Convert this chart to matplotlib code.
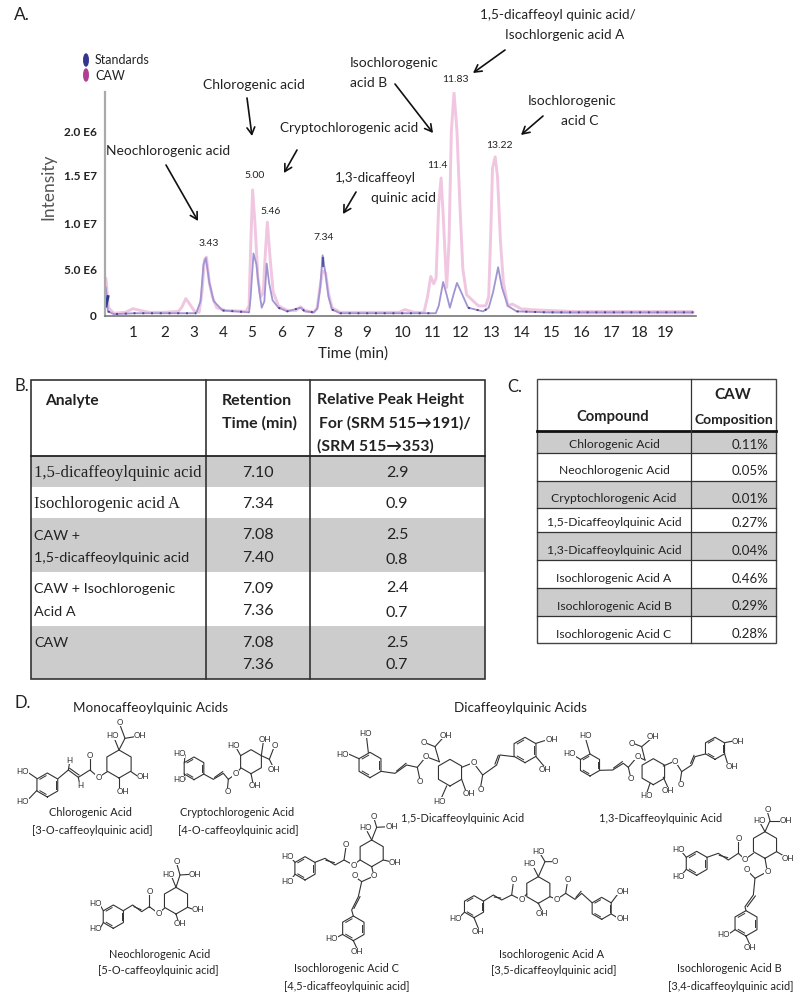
import numpy as np
import matplotlib
matplotlib.use("Agg")
import matplotlib.pyplot as plt
from matplotlib.patches import Ellipse, Rectangle

plt.rcParams['font.family'] = ['Lato', 'DejaVu Sans']

# ---------- chromatogram data (time in min, intensity in 1e6 counts) ----------
caw_time = [0.0, 0.03, 0.12, 0.3, 0.7, 0.95, 1.2, 1.5, 2.0, 2.5, 2.62, 2.75, 2.9, 3.05, 3.2, 3.3, 3.38, 3.45, 3.55, 3.65, 3.8, 4.1, 4.8,
            4.9, 4.96, 5.02, 5.1, 5.2, 5.3, 5.38, 5.44, 5.52, 5.62, 5.72, 5.9, 6.2, 6.5, 6.65, 6.8, 7.1, 7.22, 7.3, 7.4, 7.5, 7.6, 7.72,
            8.0, 9.0, 10.0, 10.2, 10.5, 10.85, 10.97, 11.08, 11.18, 11.26, 11.35, 11.43, 11.5, 11.62, 11.7, 11.78, 11.87, 11.97, 12.07,
            12.17, 12.3, 12.5, 12.7, 12.95, 13.05, 13.12, 13.18, 13.27, 13.35, 13.45, 13.55, 13.7, 13.85, 14.2, 14.5, 16.0, 18.0, 20.0]
caw_values = [1.0, 4.0, 0.8, 0.2, 0.3, 0.7, 0.5, 0.3, 0.3, 0.4, 0.9, 1.8, 1.1, 0.4, 0.3, 2.5, 6.0, 6.3, 3.5, 2.0, 0.8, 0.5, 0.4,
              1.0, 8.0, 13.6, 10.0, 4.0, 2.0, 2.4, 6.0, 10.1, 6.0, 2.5, 1.0, 0.5, 0.5, 0.9, 0.5, 0.3, 0.8, 2.8, 4.8, 4.6, 2.4, 0.8,
              0.3, 0.3, 0.3, 0.6, 0.3, 0.3, 2.0, 4.2, 3.4, 4.0, 12.0, 14.9, 11.0, 3.0, 8.0, 20.0, 24.2, 20.0, 12.0,
              5.0, 2.2, 1.6, 1.0, 1.0, 2.0, 9.0, 16.0, 17.2, 15.0, 8.0, 3.5, 1.0, 1.2, 0.6, 0.5, 0.3, 0.3, 0.3]
std_time = [0.0, 0.03, 0.1, 0.3, 1.0, 2.0, 3.1, 3.25, 3.35, 3.43, 3.55, 3.7, 4.0, 4.9, 4.95, 5.05, 5.15, 5.25, 5.33, 5.42, 5.5, 5.58, 5.7, 5.9,
            6.2, 6.65, 6.8, 7.1, 7.22, 7.32, 7.4, 7.5, 7.6, 7.72, 8.0, 10.0, 11.25, 11.35, 11.5, 11.62, 11.73, 11.85, 11.97, 12.1, 12.35,
            12.86, 13.05, 13.2, 13.37, 13.5, 13.7, 14.0, 15.0, 20.0]
std_values = [1.0, 3.0, 0.4, 0.1, 0.2, 0.2, 0.2, 1.5, 5.5, 6.2, 3.5, 1.5, 0.5, 0.3, 1.8, 6.7, 5.5, 2.5, 0.8, 1.5, 5.6, 3.5, 1.6, 0.8,
              0.4, 0.8, 0.4, 0.3, 0.7, 3.0, 6.5, 4.5, 2.0, 0.6, 0.2, 0.2, 0.2, 1.0, 3.6, 2.2, 0.8, 2.2, 3.5, 2.6, 0.8,
              0.4, 0.8, 2.5, 5.2, 3.0, 1.0, 0.4, 0.3, 0.3]
y_tick_values = [0, 5, 10, 15.2, 20]
y_tick_labels = ['0', '5.0 E6', '1.0 E7', '1.5 E7', '2.0 E6']
x_tick_positions = [0.95, 2.04, 3.03, 4.01, 5.0, 5.99, 6.97, 7.93, 8.91, 10.14, 11.16, 12.11, 13.16, 14.18, 15.2, 16.22, 17.24, 18.2, 19.08]
x_tick_labels = [str(i) for i in range(1, 20)]

peak_labels = ['3.43', '5.00', '5.46', '7.34', '11.4', '11.83', '13.22']
peak_label_xy = [(209, 244), (255, 176), (271, 211), (324, 238), (437, 165), (455, 79), (499, 145)]

# ---------- table data ----------
table_b_analyte = ['1,5-dicaffeoylquinic acid', 'Isochlorogenic acid A', 'CAW +', '1,5-dicaffeoylquinic acid',
                   'CAW + Isochlorogenic', 'Acid A', 'CAW']
table_b_rt = ['7.10', '7.34', '7.08', '7.40', '7.09', '7.36', '7.08', '7.36']
table_b_ratio = ['2.9', '0.9', '2.5', '0.8', '2.4', '0.7', '2.5', '0.7']
table_c_compound = ['Chlorogenic Acid', 'Neochlorogenic Acid', 'Cryptochlorogenic Acid', '1,5-Dicaffeoylquinic Acid',
                    '1,3-Dicaffeoylquinic Acid', 'Isochlorogenic Acid A', 'Isochlorogenic Acid B', 'Isochlorogenic Acid C']
table_c_comp = ['0.11%', '0.05%', '0.01%', '0.27%', '0.04%', '0.46%', '0.29%', '0.28%']

W, H = 800, 1001
fig = plt.figure(figsize=(W / 100, H / 100), dpi=100, facecolor='white')
INK = '#222222'
GREY = '#cccccc'

# full-figure overlay in pixel coordinates
pg = fig.add_axes([0, 0, 1, 1], zorder=5)
pg.set_xlim(0, W)
pg.set_ylim(H, 0)
pg.axis('off')
pg.patch.set_alpha(0)


def T(x, y, s, size=10, ha='center', weight='normal', color=INK, **kw):
    pg.text(x, y, s, fontsize=size, ha=ha, va='center', fontweight=weight, color=color, **kw)


# ---------- panel A ----------
ax = fig.add_axes([105 / W, 1 - 316 / H, (696 - 105) / W, (316 - 92) / H], zorder=1)
ax.set_xlim(0, 20.1)
ax.set_ylim(-0.1, 24.25)
caw_t = np.array(caw_time)
caw_v = np.array(caw_values)
ax.plot(caw_t[caw_t >= 14.0], caw_v[caw_t >= 14.0], color='#f0c8e2', lw=3.2, solid_capstyle='butt')
ax.plot(caw_time, caw_values, color='#f0c6e1', lw=2.1, solid_joinstyle='round')
ax.plot(std_time, std_values, color='#a095d2', lw=1.3, solid_joinstyle='round')
std_t = np.array(std_time)
std_v = np.array(std_values)
ax.plot(std_t, np.where(std_v < 1, std_v, np.nan), color='#4f2f88', lw=1.4, ls=(0, (1, 3.5)), alpha=0.85)
ax.plot(std_t[[1, 2]], [1.0, 2.0], color='#2b3a8f', lw=2.2)
ax.plot(std_t[[30, 30]], [5.3, 6.2], color='#2b3a8f', lw=1.6, alpha=0.7)
for side in ['top', 'right']:
    ax.spines[side].set_visible(False)
ax.spines['left'].set_color('#aaaaaa')
ax.spines['left'].set_linewidth(1.6)
ax.spines['bottom'].set_color('#777777')
ax.spines['bottom'].set_linewidth(1.2)
ax.patch.set_alpha(0)
ax.set_xticks(x_tick_positions, x_tick_labels, fontsize=11, color=INK)
ax.set_yticks(y_tick_values, y_tick_labels, fontsize=8.5, fontweight='bold', color=INK)
ax.tick_params(axis='both', length=0)
ax.tick_params(axis='x', pad=7)
ax.tick_params(axis='y', pad=6)
ax.set_xlabel('Time (min)', fontsize=11, color=INK)
ax.xaxis.set_label_coords((353 - 105) / 591, -(346 - 316) / 224)
ax.set_ylabel('Intensity', fontsize=12.5, color='#555555')
ax.yaxis.set_label_coords((56 - 105) / 591, (316 - 187) / 224)

T(14, 15, 'A.', 12.5, ha='left')
pg.add_patch(Ellipse((86, 60), 4.5, 12, color='#35358f'))
pg.add_patch(Ellipse((86, 75), 4.5, 12, color='#b0408f'))
T(95, 60, 'Standards', 9, ha='left')
T(95, 76, 'CAW', 9, ha='left')
for s, (x, y) in zip(peak_labels, peak_label_xy):
    T(x, y, s, 7.5)

T(254, 85, 'Chlorogenic acid', 10)
T(106, 151, 'Neochlorogenic acid', 9.9, ha='left')
T(280, 128, 'Cryptochlorogenic acid', 9.7, ha='left')
T(335, 178, '1,3-dicaffeoyl', 9.5, ha='left')
T(436, 198, 'quinic acid', 10, ha='right')
T(350, 63, 'Isochlorogenic', 10, ha='left')
T(350, 83, 'acid B', 10, ha='left')
T(480, 15, '1,5-dicaffeoyl quinic acid/', 9.7, ha='left')
T(505, 35, 'Isochlorgenic acid A', 9.7, ha='left')
T(528, 101, 'Isochlorogenic', 10, ha='left')
T(561, 121, 'acid C', 10, ha='left')
arrows = [((247, 98), (252, 136)), ((166, 165), (198, 221)), ((297, 150), (284, 173)), ((356, 192), (343, 214)),
          ((395, 84), (433, 133)), ((505, 50), (473, 73)), ((543, 116), (521, 135))]
for a, b in arrows:
    pg.annotate('', xy=b, xytext=a, arrowprops=dict(arrowstyle='->,head_width=0.28,head_length=0.5', lw=1.2, color='#111111',
                                                   shrinkA=0, shrinkB=0))

# ---------- panel B ----------
T(14, 386, 'B.', 12, ha='left')
bx0, bx1, bx2, bx3 = 31, 206, 310, 485
by = [380, 456, 487, 518, 572, 626, 679]
for i, shade in enumerate([None, GREY, None, GREY, None, GREY]):
    if shade:
        pg.add_patch(Rectangle((bx0, by[i]), bx3 - bx0, by[i + 1] - by[i], color=shade, lw=0))
pg.add_patch(Rectangle((bx0, by[0]), bx3 - bx0, by[-1] - by[0], fill=False, ec='#333333', lw=1.2))
pg.plot([bx1, bx1], [by[0], by[-1]], color='#333333', lw=1.2)
pg.plot([bx2, bx2], [by[0], by[-1]], color='#333333', lw=1.2)
pg.plot([bx0, bx3], [by[1], by[1]], color='#222222', lw=1.3)
T(45, 401, 'Analyte', 11.2, ha='left', weight='bold')
T(222, 401, 'Retention', 11.5, ha='left', weight='bold')
T(222, 423, 'Time (min)', 11.5, ha='left', weight='bold')
T(317, 400, 'Relative Peak Height', 11.3, ha='left', weight='bold')
T(319, 423, 'For (SRM 515\u2192191)/', 11.3, ha='left', weight='bold')
T(317, 446, '(SRM 515\u2192353)', 11.3, ha='left', weight='bold')
analyte_y = [473, 504.5, 535.5, 558, 589, 612, 643]
for k, (s, y) in enumerate(zip(table_b_analyte, analyte_y)):
    if k < 2:
        T(34, y, s, 12, ha='left', family='Liberation Serif')
    else:
        T(34, y, s, 10.4, ha='left')
rt_y = [473, 504, 535, 558, 589, 611, 643, 665]
ratio_y = [473, 504, 535, 560, 588, 613, 643, 665]
for s, y in zip(table_b_rt, rt_y):
    T(258, y, s, 11.5)
for s, y in zip(table_b_ratio, ratio_y):
    T(397, y, s, 11.5)

# ---------- panel C ----------
T(507, 387, 'C.', 12, ha='left')
cx0, cx1, cx2 = 537, 691, 776
cy = [379, 431, 453, 481, 508, 532, 560, 588, 616, 643]
for i in range(8):
    if i % 2 == 0:
        pg.add_patch(Rectangle((cx0, cy[i + 1]), cx2 - cx0, cy[i + 2] - cy[i + 1], color=GREY, lw=0))
for y in cy[2:-1]:
    pg.plot([cx0, cx2], [y, y], color='#333333', lw=0.9)
pg.plot([cx0, cx2], [cy[1], cy[1]], color='#111111', lw=2.0)
pg.add_patch(Rectangle((cx0, cy[0]), cx2 - cx0, cy[-1] - cy[0], fill=False, ec='#444444', lw=1.0))
pg.plot([cx1, cx1], [cy[0], cy[-1]], color='#333333', lw=0.9)
T(613, 417, 'Compound', 10.6, weight='bold')
T(733, 395, 'CAW', 11, weight='bold')
T(734, 420, 'Composition', 10, weight='bold')
row_c_y = [445, 471, 499, 523, 551, 579, 606, 634]
for s, v, y in zip(table_c_compound, table_c_comp, row_c_y):
    T(614, y, s, 8.7)
    T(768, y, v, 9.5, ha='right')

# ---------- panel D: structure sketches (illustration, coordinates in zoomed px) ----------
T(15, 703, 'D.', 12, ha='left')
T(151, 708, 'Monocaffeoylquinic Acids', 9.7)
T(520, 708, 'Dicaffeoylquinic Acids', 9.7)
captions = [(90, 813, 'Chlorogenic Acid'), (92, 830, '[3-O-caffeoylquinic acid]'),
            (237, 813, 'Cryptochlorogenic Acid'), (238, 830, '[4-O-caffeoylquinic acid]'),
            (160, 954, 'Neochlorogenic Acid'), (158, 971, '[5-O-caffeoylquinic acid]'),
            (463, 819, '1,5-Dicaffeoylquinic Acid'), (661, 819, '1,3-Dicaffeoylquinic Acid'),
            (347, 968, 'Isochlorogenic Acid C'), (347, 986, '[4,5-dicaffeoylquinic acid]'),
            (552, 954, 'Isochlorogenic Acid A'), (554, 971, '[3,5-dicaffeoylquinic acid]'),
            (729, 968, 'Isochlorogenic Acid B'), (731, 986, '[3,4-dicaffeoylquinic acid]')]
for x, y, s in captions:
    T(x, y, s, 7.9)


def struct(ox, rings, chains, labels):
    def P(p):
        return ox + p[0] / 3, 690 + p[1] / 3
    for k, (cx, cy_, r) in enumerate(rings):
        ang = np.radians(np.arange(90, 451, 60))
        xs = cx + r * np.cos(ang)
        ys = cy_ + r * np.sin(ang)
        px = [P(q) for q in zip(xs, ys)]
        pg.plot(*zip(*px), color='#333333', lw=0.8)
        if k != 1:  # the second ring of every structure is the quinic ring
            ri = 0.78 * r
            for j in (0, 2, 4):
                a = ang[j] + np.radians(8)
                b = ang[j + 1] - np.radians(8)
                q1 = P((cx + ri * np.cos(a), cy_ + ri * np.sin(a)))
                q2 = P((cx + ri * np.cos(b), cy_ + ri * np.sin(b)))
                pg.plot([q1[0], q2[0]], [q1[1], q2[1]], color='#333333', lw=0.7)
    for ch in chains:
        pg.plot(*zip(*[P(q) for q in ch]), color='#333333', lw=0.8)
    for x, y, s in labels:
        qx, qy = P((x, y))
        pg.text(qx, qy, s, fontsize=5.8, ha='center', va='center', color=INK,
                bbox=dict(fc='white', ec='none', pad=0.2))


struct(0, [(142, 285, 36), (357, 222, 42)],
       [[(175, 265), (205, 240), (235, 262), (270, 240), (295, 262), (322, 245)], [(270, 240), (270, 205)], [(209, 235), (237, 255)],
        [(110, 265), (88, 250)], [(110, 302), (88, 325)], [(393, 245), (415, 260)], [(357, 265), (357, 295)],
        [(357, 180), (375, 145), (360, 105)], [(375, 145), (405, 140)], [(357, 180), (345, 150)], [(205, 240), (208, 222)], [(235, 262), (238, 278)]],
       [(68, 243, 'HO'), (68, 335, 'HO'), (208, 212, 'H'), (240, 287, 'H'), (270, 195, 'O'), (295, 264, 'O'), (430, 260, 'OH'),
        (368, 305, 'OH'), (360, 98, 'O'), (420, 138, 'OH'), (338, 138, 'HO')])
struct(0, [(582, 235, 34), (753, 215, 36)],
       [[(611, 252), (640, 268), (670, 250), (685, 268), (707, 252), (722, 235)], [(685, 268), (682, 300)], [(644, 262), (668, 245)],
        [(553, 218), (555, 195)], [(553, 252), (555, 268)], [(784, 197), (790, 155)], [(784, 197), (808, 208), (822, 172)], [(808, 208), (820, 232)],
        [(753, 251), (760, 285)], [(722, 197), (708, 172)]],
       [(537, 192, 'HO'), (537, 268, 'HO'), (682, 306, 'O'), (707, 252, 'O'), (795, 148, 'OH'), (825, 167, 'O'), (822, 237, 'OH'),
        (765, 287, 'OH'), (700, 167, 'HO')])
struct(0, [(340, 680, 35), (528, 632, 40)],
       [[(370, 662), (398, 645), (425, 665), (448, 650), (475, 670), (493, 655)], [(448, 650), (448, 612)], [(402, 650), (423, 659)],
        [(310, 662), (300, 645)], [(310, 698), (300, 715)], [(528, 592), (540, 555), (530, 520)], [(540, 555), (570, 553)], [(528, 592), (515, 560)],
        [(563, 652), (585, 660)], [(528, 672), (535, 695)]],
       [(285, 642, 'HO'), (285, 715, 'HO'), (448, 604, 'O'), (475, 670, 'O'), (530, 515, 'O'), (585, 553, 'OH'), (505, 553, 'HO'),
        (595, 660, 'OH'), (540, 700, 'OH')])

struct(280, [(270, 225, 38), (510, 248, 40), (735, 180, 38)],
       [[(303, 244), (345, 250), (380, 225), (412, 232), (438, 200), (478, 215)], [(412, 232), (420, 270)], [(350, 243), (378, 220)],
        [(265, 187), (260, 145)], [(237, 206), (208, 193)], [(478, 215), (465, 170), (435, 158)], [(465, 170), (492, 140)],
        [(545, 232), (580, 218), (608, 255), (650, 225), (660, 195), (702, 200)], [(608, 255), (602, 290)], [(645, 222), (655, 196)],
        [(500, 288), (485, 322)], [(545, 268), (560, 310)], [(768, 160), (800, 150)], [(768, 200), (795, 232)]],
       [(255, 132, 'HO'), (188, 193, 'HO'), (420, 276, 'O'), (438, 200, 'O'), (430, 158, 'O'), (497, 135, 'OH'), (580, 218, 'O'),
        (602, 298, 'O'), (478, 333, 'HO'), (568, 312, 'OH'), (815, 150, 'OH'), (795, 238, 'OH')])
struct(280, [(930, 225, 33), (1120, 245, 39), (1305, 175, 33)],
       [[(959, 241), (998, 240), (1030, 220), (1045, 232), (1072, 200), (1095, 210)], [(1045, 232), (1052, 262)], [(1001, 234), (1027, 215)],
        [(930, 192), (918, 150)], [(901, 208), (880, 195)], [(1095, 210), (1085, 170), (1060, 160)], [(1085, 170), (1115, 145)],
        [(1150, 228), (1185, 213), (1205, 245), (1235, 225), (1245, 200), (1276, 192)], [(1205, 245), (1200, 278)], [(1232, 220), (1242, 196)],
        [(1110, 280), (1100, 310)], [(1150, 262), (1165, 295)], [(1334, 158), (1360, 153)], [(1334, 192), (1345, 228)]],
       [(915, 138, 'HO'), (868, 192, 'HO'), (1052, 266, 'O'), (1072, 200, 'O'), (1055, 160, 'O'), (1120, 140, 'OH'), (1185, 213, 'O'),
        (1203, 283, 'O'), (1100, 316, 'HO'), (1163, 302, 'OH'), (1375, 153, 'OH'), (1355, 230, 'OH')])
struct(280, [(75, 535, 35), (275, 490, 40), (220, 715, 37)],
       [[(105, 517), (135, 505), (165, 525), (192, 510), (220, 525), (240, 510)], [(192, 510), (198, 470)], [(138, 511), (163, 518)],
        [(45, 517), (30, 500)], [(45, 553), (30, 573)], [(275, 450), (290, 412), (282, 385)], [(290, 412), (325, 410)], [(275, 450), (262, 425)],
        [(310, 510), (345, 518)], [(275, 530), (282, 558), (245, 575), (225, 560)], [(245, 575), (235, 620), (215, 660), (220, 678)],
        [(240, 620), (222, 655)], [(188, 733), (165, 745)], [(220, 752), (232, 778)]],
       [(22, 500, 'HO'), (22, 573, 'HO'), (198, 463, 'O'), (220, 525, 'O'), (282, 380, 'O'), (335, 410, 'OH'), (255, 412, 'HO'),
        (345, 518, 'OH'), (282, 558, 'O'), (225, 555, 'O'), (155, 745, 'HO'), (232, 785, 'OH')])
struct(280, [(582, 650, 33), (775, 600, 40), (965, 655, 33)],
       [[(611, 633), (640, 615), (665, 630), (695, 615), (725, 630), (740, 612)], [(695, 615), (700, 578)], [(643, 621), (662, 624)],
        [(553, 667), (535, 685)], [(582, 683), (595, 715)], [(775, 560), (795, 515), (820, 515)], [(795, 515), (780, 490)], [(775, 560), (760, 530)],
        [(810, 620), (830, 628), (857, 610), (885, 628), (905, 610), (936, 638)], [(857, 610), (862, 578)], [(888, 622), (903, 604)],
        [(994, 638), (1015, 610)], [(994, 672), (1015, 685)], [(775, 640), (785, 660)]],
       [(525, 685, 'HO'), (595, 725, 'OH'), (700, 570, 'O'), (725, 630, 'O'), (825, 515, 'O'), (775, 483, 'HO'), (750, 522, 'HO'),
        (830, 628, 'O'), (862, 570, 'O'), (1028, 605, 'OH'), (1028, 685, 'OH'), (785, 670, 'OH')])
struct(280, [(1250, 520, 36), (1455, 465, 40), (1398, 700, 38)],
       [[(1281, 502), (1315, 490), (1345, 510), (1375, 490), (1395, 508), (1420, 490)], [(1375, 490), (1375, 452)], [(1318, 496), (1343, 503)],
        [(1219, 502), (1205, 485)], [(1219, 538), (1205, 555)], [(1455, 425), (1470, 392), (1462, 365)], [(1470, 392), (1505, 392)], [(1455, 425), (1440, 398)],
        [(1490, 485), (1515, 500)], [(1455, 505), (1462, 545), (1425, 565), (1405, 545)], [(1425, 565), (1420, 615), (1395, 650), (1398, 662)],
        [(1426, 618), (1402, 650)], [(1365, 719), (1345, 733)], [(1398, 738), (1410, 765)]],
       [(1195, 478, 'HO'), (1195, 560, 'HO'), (1375, 445, 'O'), (1395, 508, 'O'), (1462, 358, 'O'), (1518, 392, 'OH'), (1438, 392, 'HO'),
        (1525, 505, 'OH'), (1462, 545, 'O'), (1400, 540, 'O'), (1332, 733, 'HO'), (1410, 772, 'OH')])

fig.savefig('out.png', dpi=100, facecolor='white')
